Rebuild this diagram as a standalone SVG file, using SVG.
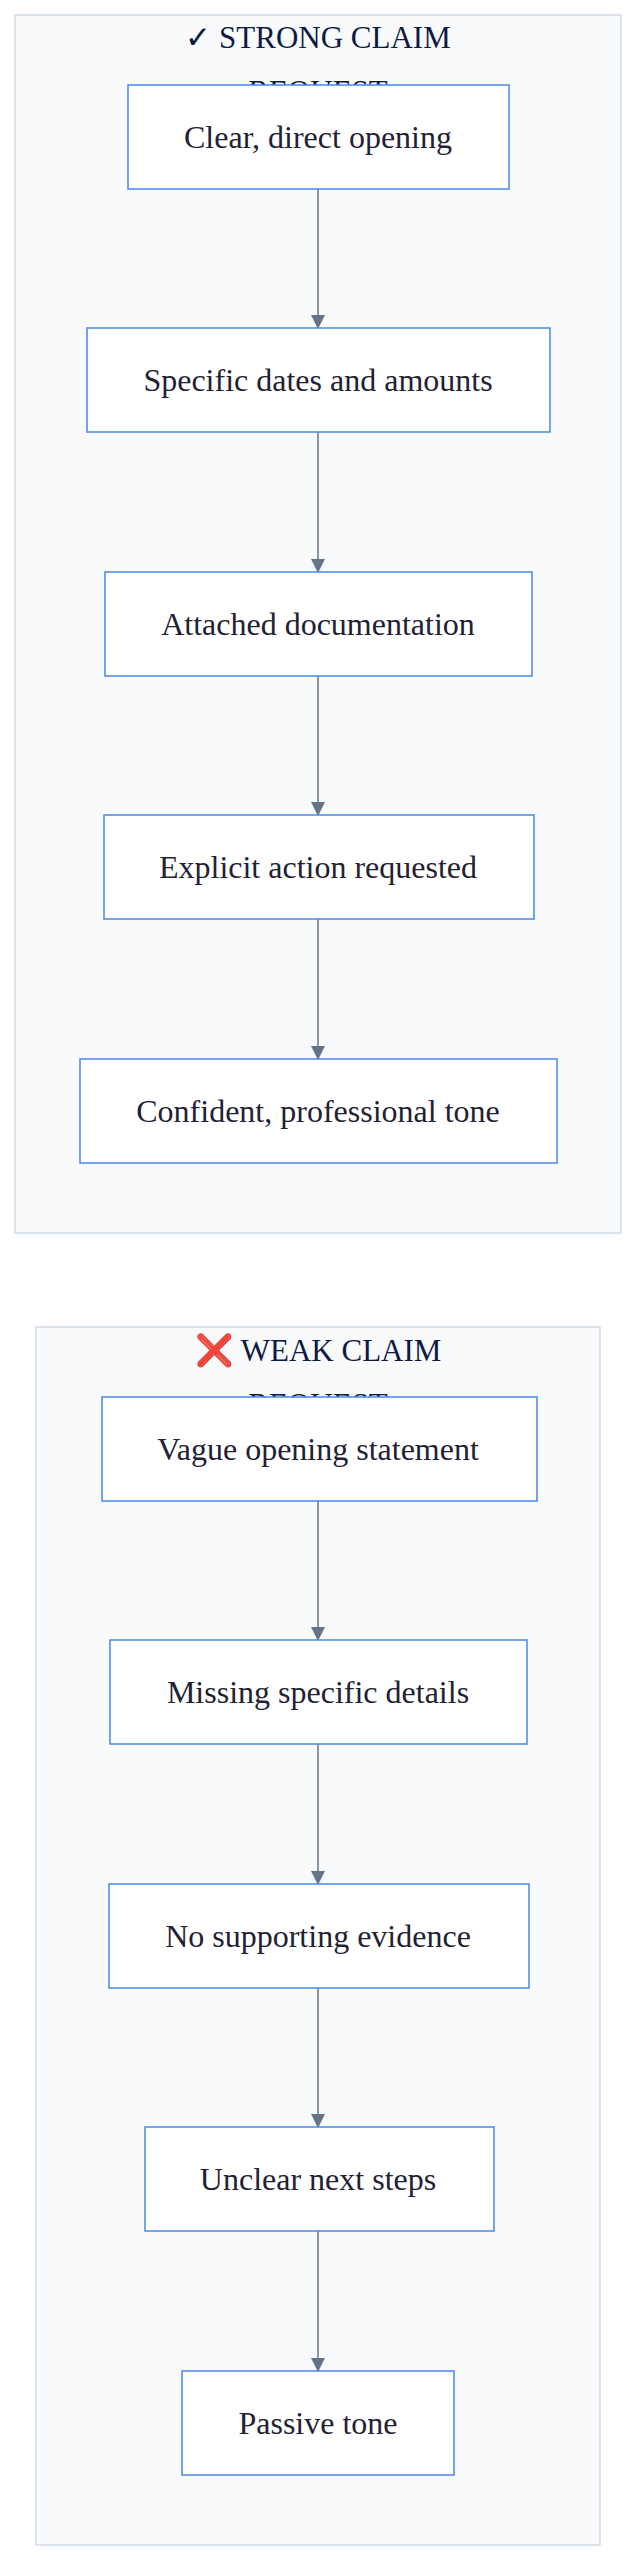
<svg xmlns="http://www.w3.org/2000/svg" width="633" height="2560" viewBox="0 0 633 2560">
<style>
.cl{fill:#f8fafc;stroke:#d3dce7;stroke-width:1.5}
.nd{fill:#fff;stroke:#4a86e8;stroke-width:1.5}
.tt{font-family:"Liberation Serif",serif;font-size:31px;fill:#0f1a44;text-anchor:middle}
.nt{font-family:"Liberation Serif",serif;font-size:32px;fill:#1f2233;text-anchor:middle;dominant-baseline:central}
.ed{stroke:#64748b;stroke-width:1.5;fill:none;marker-end:url(#ar)}
</style>
<defs><marker id="ar" markerWidth="14" markerHeight="14" refX="13" refY="7" orient="auto" markerUnits="userSpaceOnUse"><path d="M0,0 L14,7 L0,14 z" fill="#64748b"/></marker></defs>
<rect width="633" height="2560" fill="#fff"/>
<g id="strong">
<rect class="cl" x="15" y="15" width="606" height="1218"/>
<text class="tt" x="318" y="48">✓ STRONG CLAIM</text>
<text class="tt" x="318" y="102">REQUEST</text>
</g>
<g id="weak">
<rect class="cl" x="36" y="1327" width="564" height="1218"/>
<text class="tt" x="318" y="1361"><tspan fill="#e8453c" font-family="'Noto Sans',sans-serif">❌</tspan> WEAK CLAIM</text>
<text class="tt" x="318" y="1415">REQUEST</text>
</g>
<g id="connectors">
<path class="ed" d="M318,188 V328"/>
<path class="ed" d="M318,432 V572"/>
<path class="ed" d="M318,676 V815"/>
<path class="ed" d="M318,919 V1059"/>
<path class="ed" d="M318,1501 V1640"/>
<path class="ed" d="M318,1744 V1884"/>
<path class="ed" d="M318,1988 V2127"/>
<path class="ed" d="M318,2231 V2371"/>
</g>
<g id="s1"><rect class="nd" x="128" y="85" width="381" height="104"/><text class="nt" x="318" y="137">Clear, direct opening</text></g>
<g id="s2"><rect class="nd" x="87" y="328" width="463" height="104"/><text class="nt" x="318" y="380">Specific dates and amounts</text></g>
<g id="s3"><rect class="nd" x="105" y="572" width="427" height="104"/><text class="nt" x="318" y="624">Attached documentation</text></g>
<g id="s4"><rect class="nd" x="104" y="815" width="430" height="104"/><text class="nt" x="318" y="867">Explicit action requested</text></g>
<g id="s5"><rect class="nd" x="80" y="1059" width="477" height="104"/><text class="nt" x="318" y="1111">Confident, professional tone</text></g>
<g id="w1"><rect class="nd" x="102" y="1397" width="435" height="104"/><text class="nt" x="318" y="1449">Vague opening statement</text></g>
<g id="w2"><rect class="nd" x="110" y="1640" width="417" height="104"/><text class="nt" x="318" y="1692">Missing specific details</text></g>
<g id="w3"><rect class="nd" x="109" y="1884" width="420" height="104"/><text class="nt" x="318" y="1936">No supporting evidence</text></g>
<g id="w4"><rect class="nd" x="145" y="2127" width="349" height="104"/><text class="nt" x="318" y="2179">Unclear next steps</text></g>
<g id="w5"><rect class="nd" x="182" y="2371" width="272" height="104"/><text class="nt" x="318" y="2423">Passive tone</text></g>
</svg>
